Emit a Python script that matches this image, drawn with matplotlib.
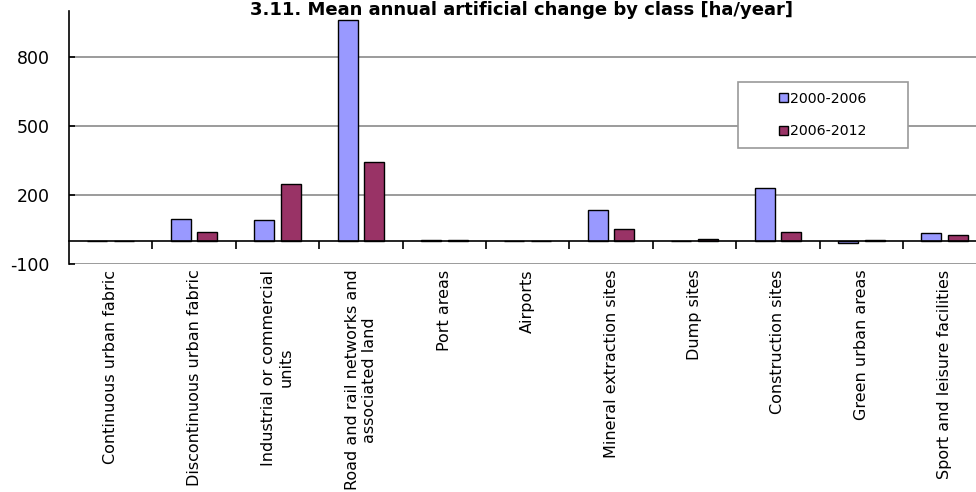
import matplotlib
matplotlib.use("Agg")
import matplotlib.pyplot as plt
from matplotlib.patches import Rectangle
import numpy as np

categories = [
    "Continuous urban fabric",
    "Discontinuous urban fabric",
    "Industrial or commercial\nunits",
    "Road and rail networks and\nassociated land",
    "Port areas",
    "Airports",
    "Mineral extraction sites",
    "Dump sites",
    "Construction sites",
    "Green urban areas",
    "Sport and leisure facilities",
]
series_labels = ["2000-2006", "2006-2012"]
values_2000_2006 = [0, 96, 93, 961, 3, 0, 135, 0, 229, -10, 35]
values_2006_2012 = [0, 40, 248, 345, 3, 0, 53, 7, 40, 4, 25]
y_ticks = [-100, 200, 500, 800]

blue = "#9999FF"
maroon = "#993366"

W, H = 976, 492
fig = plt.figure(figsize=(W / 100, H / 100), dpi=100)
plt.rcParams["font.family"] = ["DejaVu Sans"]

# axes box in pixel units (left, right, bottom, top measured from top-left)
left_px, right_px, top_px, bottom_px = 69, 976, 11, 264
ax = fig.add_axes([left_px / W, 1 - bottom_px / H,
                   (right_px - left_px) / W, (bottom_px - top_px) / H])

n = len(categories)
x = np.arange(n)
cat_px = 83.4
xmax = -0.5 + (right_px - left_px) / cat_px
ax.set_xlim(-0.5, xmax)
ax.set_ylim(-100, 1000)

bw = 0.24
off = 0.16
ax.bar(x - off, values_2000_2006, width=bw, color=blue, edgecolor="black",
       linewidth=1.0, label=series_labels[0], zorder=3)
ax.bar(x + off, values_2006_2012, width=bw, color=maroon, edgecolor="black",
       linewidth=1.0, label=series_labels[1], zorder=3)

# gridlines
ax.set_yticks(y_ticks)
ax.set_yticklabels([str(v) for v in y_ticks], fontsize=12.5)
ax.yaxis.grid(True, color="#8a8a8a", linewidth=1.2)
ax.set_axisbelow(True)
ax.tick_params(axis="y", length=4.5, width=1.2, direction="in",
               color="black", pad=14)

# spines
for s in ["top", "right"]:
    ax.spines[s].set_visible(False)
ax.spines["left"].set_color("black")
ax.spines["left"].set_linewidth(1.2)
ax.spines["bottom"].set_position(("data", 0))
ax.spines["bottom"].set_color("black")
ax.spines["bottom"].set_linewidth(1.2)
ax.spines["bottom"].set_zorder(4)

# category separators as ticks on the zero line
ax.set_xticks(np.arange(0.5, n - 1, 1.0))
ax.set_xticklabels([])
ax.tick_params(axis="x", length=6, width=1.2, direction="out", color="black")

# category names below the plot
for xi, name in zip(x, categories):
    ax.text(xi, -0.022, name, transform=ax.get_xaxis_transform(),
            rotation=90, ha="center", va="top", multialignment="center",
            fontsize=11.5, clip_on=False)

# title
fig.text(522 / W, 1 - 15 / H, "3.11. Mean annual artificial change by class [ha/year]",
         ha="center", va="baseline", fontsize=13, fontweight="bold")

# legend with its own frame
frame = Rectangle((738 / W, 1 - 148 / H), (908 - 738) / W, (148 - 82) / H,
                  transform=fig.transFigure, facecolor="white",
                  edgecolor="#9a9a9a", linewidth=1.2, zorder=5)
fig.patches.append(frame)
leg = fig.legend(loc="center", bbox_to_anchor=(823 / W, 1 - 115 / H),
                 frameon=False, fontsize=10.2, handlelength=0.6, handleheight=0.6,
                 handletextpad=0.2, labelspacing=1.3)
leg.set_zorder(6)

fig.savefig("out.png", dpi=100)
